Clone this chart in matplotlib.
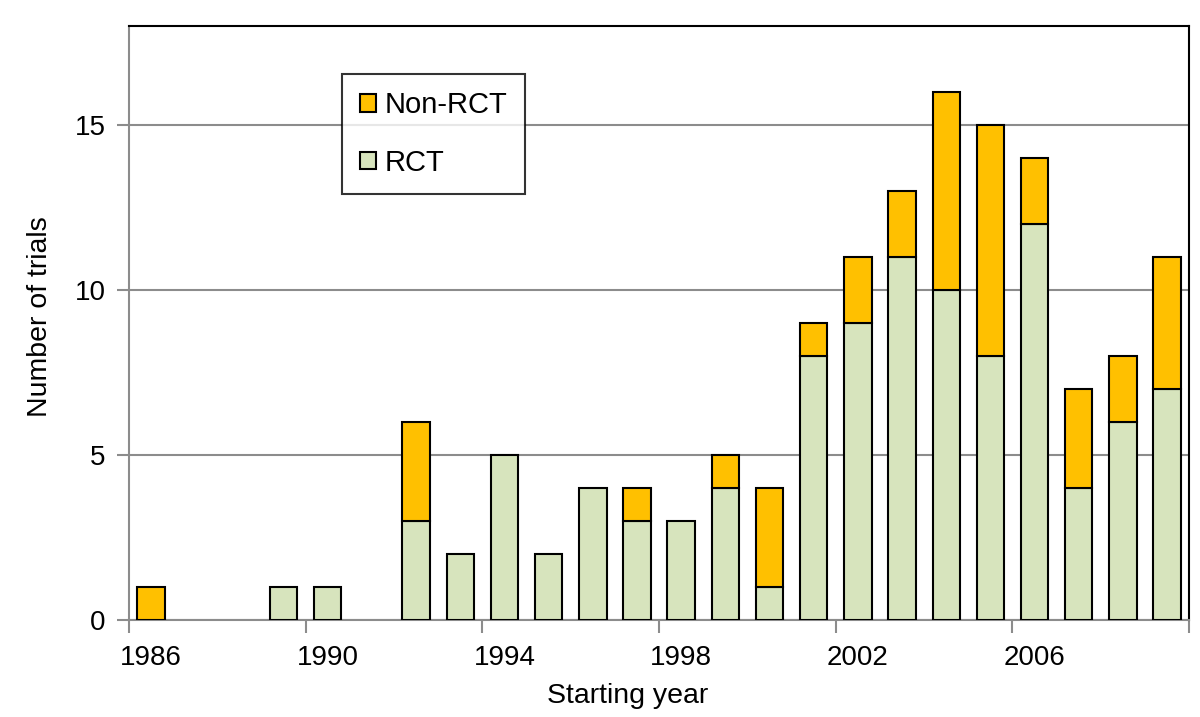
import numpy as np
import matplotlib.pyplot as plt
from matplotlib.ticker import FixedLocator, NullFormatter

plt.rcParams['font.family'] = ['Liberation Sans', 'DejaVu Sans']

years = list(range(1986, 2010))
rct = [0, 0, 0, 1, 1, 0, 3, 2, 5, 2, 4, 3, 3, 4, 1, 8, 9, 11, 10, 8, 12, 4, 6, 7]
non_rct = [1, 0, 0, 0, 0, 0, 3, 0, 0, 0, 0, 1, 0, 1, 3, 1, 2, 2, 6, 7, 2, 3, 2, 4]
label_years = [1986, 1990, 1994, 1998, 2002, 2006]

fig = plt.figure(figsize=(12, 7.17), dpi=100)
ax = fig.add_axes([0.1075, 0.135, 0.8835, 0.829])

x = np.array(years) + 0.5
rct = np.array(rct)
non_rct = np.array(non_rct)

# skip zero-height bars so no stray edge lines appear
m = rct > 0
ax.bar(x[m], rct[m], width=0.62, color='#D7E4BD', edgecolor='black', linewidth=1.5, label='RCT', zorder=3)
m2 = non_rct > 0
ax.bar(x[m2], non_rct[m2], bottom=rct[m2], width=0.62, color='#FFC000', edgecolor='black',
       linewidth=1.5, label='Non-RCT', zorder=3)

ax.set_xlim(1986, 2010)
ax.set_ylim(0, 18)
ax.set_yticks([0, 5, 10, 15])
ax.yaxis.grid(True, color='#8c8c8c', linewidth=1.5, zorder=0)

# ticks at year boundaries, labels at bar centres
ax.xaxis.set_major_locator(FixedLocator(list(range(1986, 2011, 4))))
ax.xaxis.set_major_formatter(NullFormatter())
ax.xaxis.set_minor_locator(FixedLocator([y + 0.5 for y in label_years]))
ax.set_xticklabels([str(y) for y in label_years], minor=True)
ax.tick_params(axis='x', which='minor', length=0, labelsize=20, pad=18)
ax.tick_params(axis='x', which='major', length=9, width=1.5, color='#8c8c8c')
ax.tick_params(axis='y', length=9, width=1.5, color='#8c8c8c', labelsize=20, pad=8)

for s in ['left', 'bottom']:
    ax.spines[s].set_color('#8c8c8c')
    ax.spines[s].set_linewidth(1.5)
for s in ['top', 'right']:
    ax.spines[s].set_color('black')
    ax.spines[s].set_linewidth(1.5)

ax.set_xlabel('Starting year', fontsize=20.5)
ax.xaxis.set_label_coords(0.47, -0.105)
ax.set_ylabel('Number of trials', fontsize=20.5)
ax.yaxis.set_label_coords(-0.072, 0.51)

handles, labels = ax.get_legend_handles_labels()
leg = ax.legend(handles[::-1], labels[::-1], loc='upper left', bbox_to_anchor=(0.201, 0.919),
                fontsize=21, frameon=True, fancybox=False, edgecolor='black',
                handlelength=0.55, handleheight=0.55, handletextpad=0.3,
                labelspacing=1.0, borderpad=0.6, borderaxespad=0)
leg.get_frame().set_linewidth(1.5)

fig.savefig('out.png', dpi=100)
